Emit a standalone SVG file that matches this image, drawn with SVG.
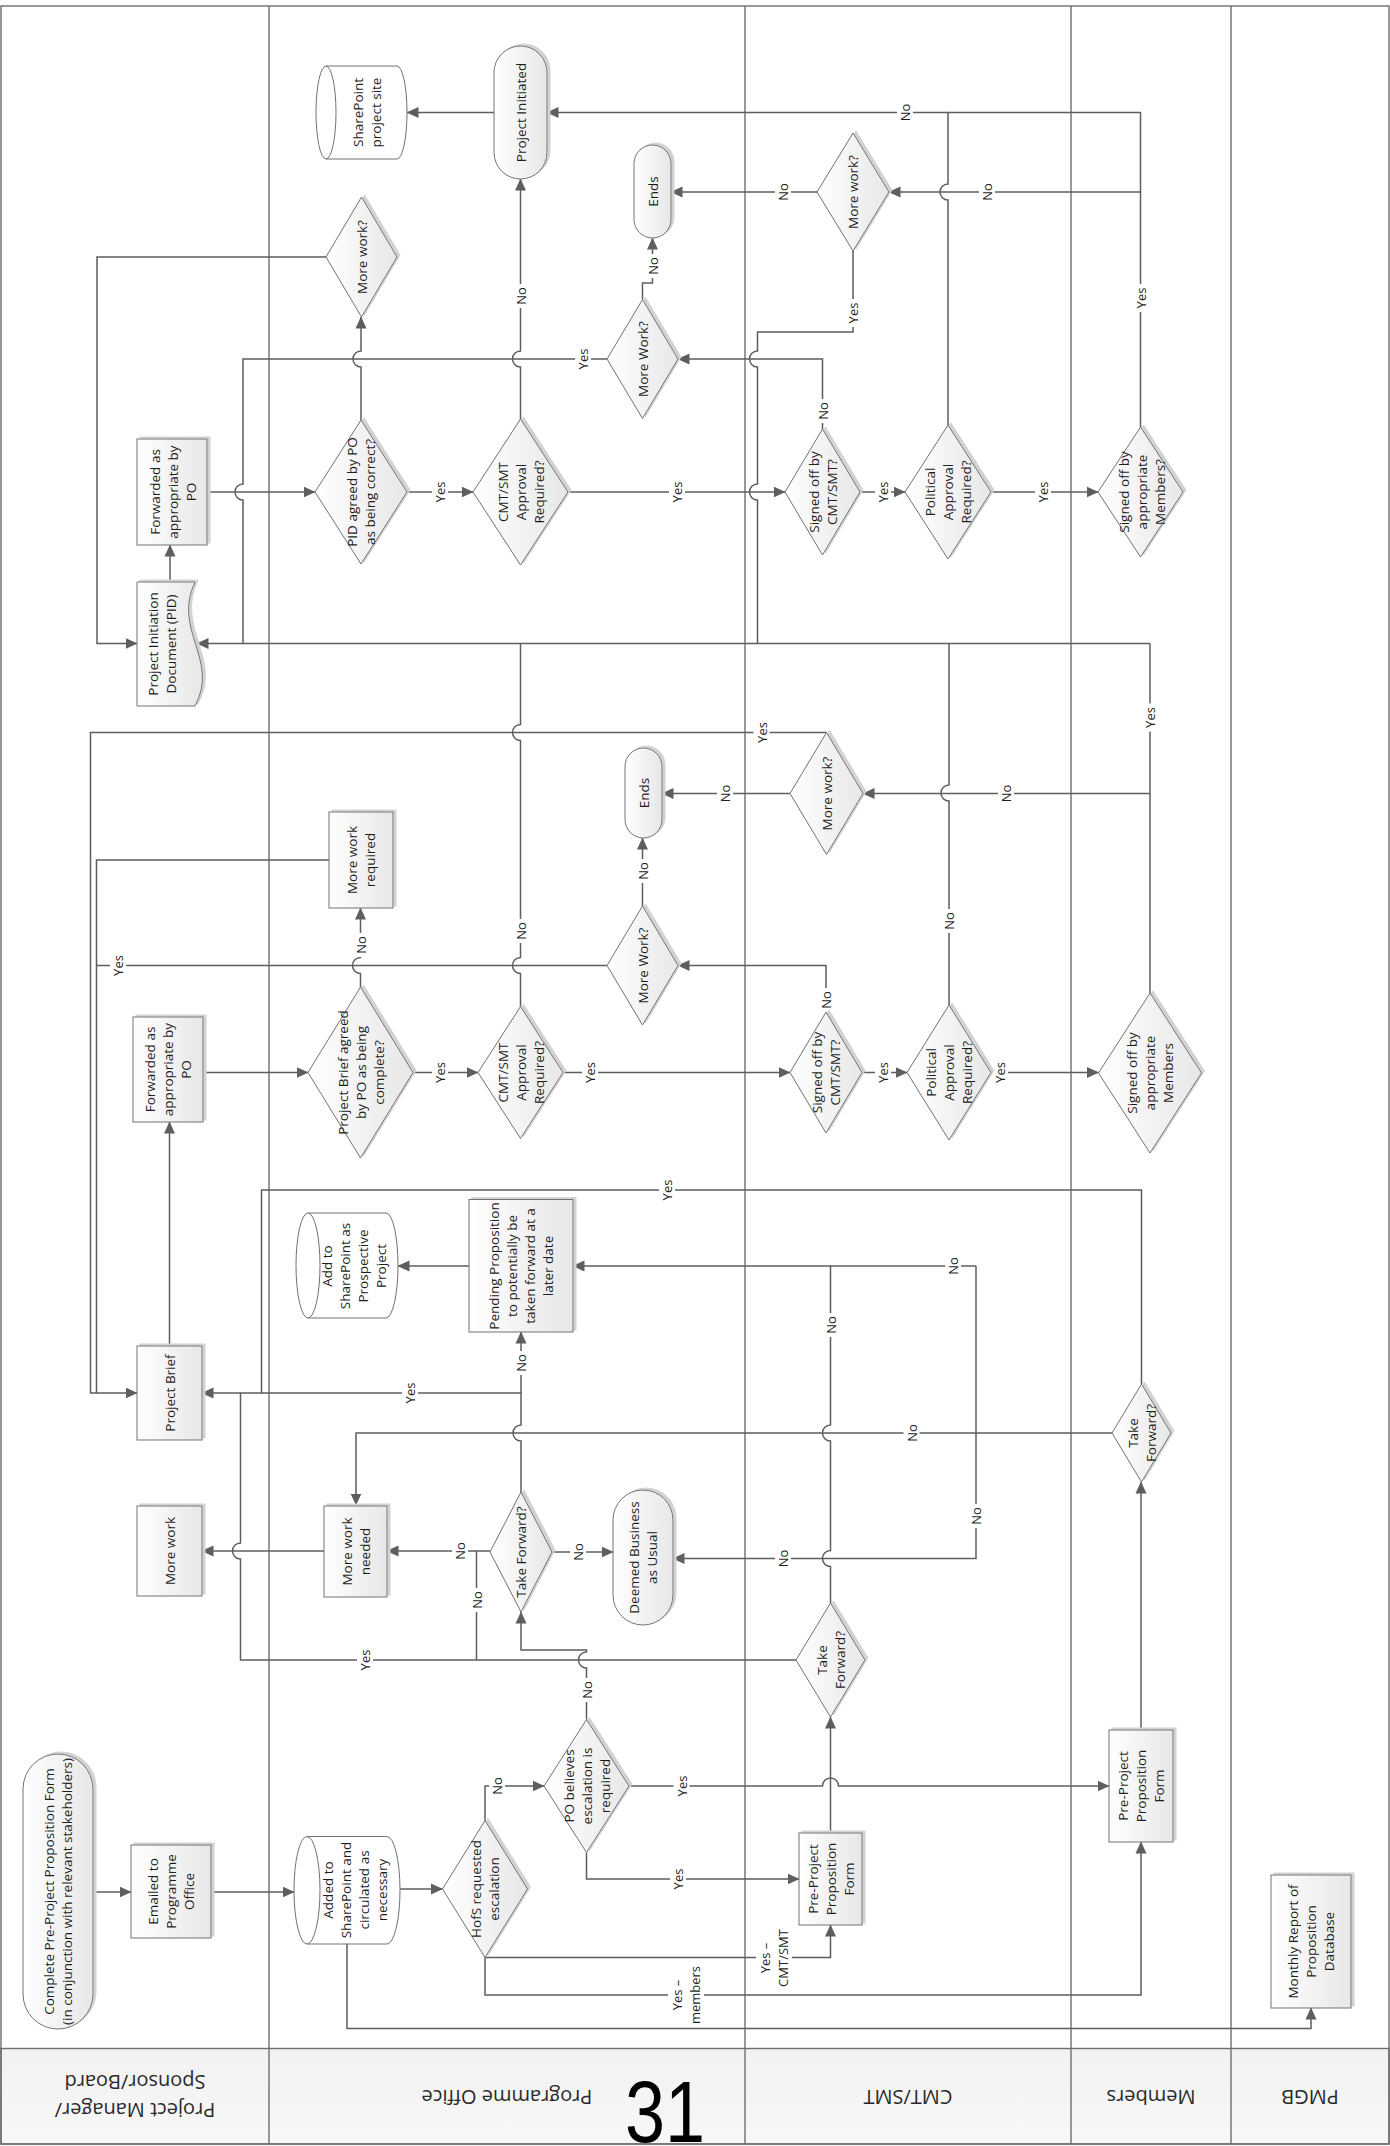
<svg xmlns="http://www.w3.org/2000/svg" width="1390" height="2146" viewBox="0 0 1390 2146">
<style>
.lane{fill:none;stroke:#6e6e6e;stroke-width:1.4}
.hdr{fill:url(#hg);stroke:#6e6e6e;stroke-width:1.4}
.ht{font-family:"Open Sans","Noto Sans",sans-serif;font-size:20px;fill:#2a2a2a;text-anchor:middle;dominant-baseline:central}
.n{fill:url(#ng);stroke:#727272;stroke-width:1;filter:url(#sh)}
.cyl{fill:#fff;stroke:#727272;stroke-width:1}
.t{font-family:"Open Sans","Noto Sans",sans-serif;font-size:13.5px;fill:#1e1e1e;text-anchor:middle;dominant-baseline:central}
.c{fill:none;stroke:#5e5e5e;stroke-width:1.5}
.a{marker-end:url(#ar)}
.lb{fill:#fff}
.lt{font-family:"Open Sans","Noto Sans",sans-serif;font-size:13px;fill:#1e1e1e;text-anchor:middle;dominant-baseline:central}
.pg{font-family:"Liberation Sans",Arial,sans-serif;font-size:72px;fill:#000;text-anchor:middle}
</style>
<defs>
<linearGradient id="ng" x1="0" y1="0" x2="1" y2="0"><stop offset="0" stop-color="#ffffff"/><stop offset="1" stop-color="#e7e7e7"/></linearGradient>
<linearGradient id="hg" x1="0" y1="0" x2="0" y2="1"><stop offset="0" stop-color="#f1f1f1"/><stop offset="1" stop-color="#f8f8f8"/></linearGradient>
<marker id="ar" viewBox="0 0 12 12" refX="11.5" refY="6" markerWidth="12" markerHeight="12" markerUnits="userSpaceOnUse" orient="auto"><path d="M0,0.5 L12,6 L0,11.5 z" fill="#5e5e5e"/></marker>
<filter id="sh" x="-10%" y="-10%" width="130%" height="130%"><feOffset in="SourceAlpha" dx="2.5" dy="-2.5" result="o"/><feFlood flood-color="#d2d2d2"/><feComposite in2="o" operator="in" result="s"/><feMerge><feMergeNode in="s"/><feMergeNode in="SourceGraphic"/></feMerge></filter>
</defs>

<g id="lanes">
<rect x="1" y="6" width="1388" height="2138" fill="#fff" stroke="none"/>
<rect class="hdr" x="1" y="2048.5" width="1388" height="95.5"/>
<rect class="lane" x="1" y="6" width="1388" height="2138"/>
<line class="lane" x1="269" y1="6" x2="269" y2="2144"/>
<line class="lane" x1="745" y1="6" x2="745" y2="2144"/>
<line class="lane" x1="1071" y1="6" x2="1071" y2="2144"/>
<line class="lane" x1="1231" y1="6" x2="1231" y2="2144"/>
<text class="ht" transform="translate(135,2097) rotate(180)"><tspan x="0" y="-14">Project Manager/</tspan><tspan x="0" y="14">Sponsor/Board</tspan></text>
<text class="ht" transform="translate(507,2097) rotate(180)">Programme Office</text>
<text class="ht" transform="translate(908,2097) rotate(180)">CMT/SMT</text>
<text class="ht" transform="translate(1151,2097) rotate(180)">Members</text>
<text class="ht" transform="translate(1310,2097) rotate(180)">PMGB</text>
<text class="pg" transform="translate(665,2142) scale(1,1.2)">31</text>
</g>

<g id="connectors">
<path class="c a" d="M494,112.5 H407"/>
<path class="c a" d="M520.5,419 V367 A8,8 0 0 1 520.5,351 V179"/>
<path class="c a" d="M948,425 V200 A8,8 0 0 1 948,184 V112.5 H547"/>
<path class="c" d="M1140.5,427 V112.5 H948"/>
<path class="c a" d="M1140.5,192 H889"/>
<path class="c a" d="M817,192 H671"/>
<path class="c" d="M853,251 V332 H757.5 V351 A8,8 0 0 0 757.5,367 V484 A8,8 0 0 0 757.5,500 V643.5"/>
<path class="c a" d="M822.5,429 V359 H678"/>
<path class="c" d="M607,359 H243 V484 A8,8 0 0 0 243,500 V643.5"/>
<path class="c a" d="M642.5,299.5 V283 H652.5 V238"/>
<path class="c a" d="M361,420 V367 A8,8 0 0 1 361,351 V317"/>
<path class="c a" d="M326,257 H97 V643.5 H137"/>
<path class="c a" d="M207,492 H315"/>
<path class="c a" d="M170,582 V545"/>
<path class="c a" d="M407,492 H473"/>
<path class="c a" d="M568,492 H785"/>
<path class="c a" d="M860,492 H905"/>
<path class="c a" d="M991,492 H1098"/>
<path class="c a" d="M1150,643.5 H197"/>
<path class="c" d="M1150,993 V643.5"/>
<path class="c" d="M949,1005 V801 A8,8 0 0 1 949,785 V643.5"/>
<path class="c" d="M520.5,1006.5 V973.5 A8,8 0 0 1 520.5,957.5 V740.5 A8,8 0 0 1 520.5,724.5 V643.5"/>
<path class="c a" d="M1150,793.5 H863"/>
<path class="c a" d="M790,793.5 H662"/>
<path class="c a" d="M826.5,732.5 H90.5 V1393 H137"/>
<path class="c" d="M329,860 H96.5 V1393"/>
<path class="c" d="M607,965.5 H96.5"/>
<path class="c a" d="M360.5,987 V973.5 A8,8 0 0 1 360.5,957.5 V908"/>
<path class="c a" d="M826,1012 V965.5 H678"/>
<path class="c a" d="M642.5,906 V838"/>
<path class="c a" d="M203,1072.5 H308"/>
<path class="c a" d="M169.5,1346 V1122"/>
<path class="c a" d="M413,1072.5 H478"/>
<path class="c a" d="M563,1072.5 H790"/>
<path class="c a" d="M862,1072.5 H907"/>
<path class="c a" d="M991,1072.5 H1098.5"/>
<path class="c a" d="M1141.5,1384 V1190 H261.5 V1393 H202"/>
<path class="c" d="M521,1492 V1441 A8,8 0 0 1 521,1425 V1393 H261.5"/>
<path class="c a" d="M521,1393 V1332"/>
<path class="c a" d="M469,1266 H398"/>
<path class="c a" d="M830.5,1603 V1566.5 A8,8 0 0 1 830.5,1550.5 V1441 A8,8 0 0 1 830.5,1425 V1266 H573"/>
<path class="c a" d="M1112,1433 H356 V1505"/>
<path class="c" d="M976,1266 H830.5"/>
<path class="c a" d="M976,1266 V1558.5 H673"/>
<path class="c a" d="M490,1551 H387"/>
<path class="c a" d="M552,1552 H613"/>
<path class="c a" d="M324,1551 H202"/>
<path class="c" d="M796,1660 H240.5 V1559 A8,8 0 0 1 240.5,1543 V1393"/>
<path class="c a" d="M586.5,1719.5 V1668 A8,8 0 0 1 586.5,1652 V1650 H521 V1612"/>
<path class="c" d="M476.5,1551 V1660"/>
<path class="c a" d="M93,1892 H131"/>
<path class="c a" d="M211,1892 H294"/>
<path class="c a" d="M400,1889 H442.5"/>
<path class="c a" d="M485,1820.5 V1786 H544"/>
<path class="c a" d="M485,1957.5 H830.5 V1925"/>
<path class="c a" d="M485,1957.5 V1995 H1141 V1842"/>
<path class="c a" d="M629,1786 H822.5 A8,8 0 0 1 838.5,1786 H1109"/>
<path class="c a" d="M830.5,1833 V1717"/>
<path class="c a" d="M586.5,1852.5 V1879 H799"/>
<path class="c a" d="M1141,1730 V1482"/>
<path class="c a" d="M347,1944 V2028.5 H1311 V2008"/>

<rect class="lb" x="512.5" y="284" width="16" height="24"/><text class="lt" transform="translate(520.5,296) rotate(-90)">No</text>
<rect class="lb" x="897" y="100.5" width="16" height="24"/><text class="lt" transform="translate(905,112.5) rotate(-90)">No</text>
<rect class="lb" x="1132.5" y="284" width="16" height="28"/><text class="lt" transform="translate(1140.5,298) rotate(-90)">Yes</text>
<rect class="lb" x="979" y="180" width="16" height="24"/><text class="lt" transform="translate(987,192) rotate(-90)">No</text>
<rect class="lb" x="775" y="180" width="16" height="24"/><text class="lt" transform="translate(783,192) rotate(-90)">No</text>
<rect class="lb" x="845" y="299" width="16" height="28"/><text class="lt" transform="translate(853,313) rotate(-90)">Yes</text>
<rect class="lb" x="814.5" y="399" width="16" height="24"/><text class="lt" transform="translate(822.5,411) rotate(-90)">No</text>
<rect class="lb" x="575" y="345" width="16" height="28"/><text class="lt" transform="translate(583,359) rotate(-90)">Yes</text>
<rect class="lb" x="644.5" y="254" width="16" height="24"/><text class="lt" transform="translate(652.5,266) rotate(-90)">No</text>
<rect class="lb" x="432" y="478" width="16" height="28"/><text class="lt" transform="translate(440,492) rotate(-90)">Yes</text>
<rect class="lb" x="669" y="478" width="16" height="28"/><text class="lt" transform="translate(677,492) rotate(-90)">Yes</text>
<rect class="lb" x="875" y="478" width="16" height="28"/><text class="lt" transform="translate(883,492) rotate(-90)">Yes</text>
<rect class="lb" x="1035" y="478" width="16" height="28"/><text class="lt" transform="translate(1043,492) rotate(-90)">Yes</text>
<rect class="lb" x="1142" y="703.5" width="16" height="28"/><text class="lt" transform="translate(1150,717.5) rotate(-90)">Yes</text>
<rect class="lb" x="941" y="909" width="16" height="24"/><text class="lt" transform="translate(949,921) rotate(-90)">No</text>
<rect class="lb" x="512.5" y="919" width="16" height="24"/><text class="lt" transform="translate(520.5,931) rotate(-90)">No</text>
<rect class="lb" x="998" y="781.5" width="16" height="24"/><text class="lt" transform="translate(1006,793.5) rotate(-90)">No</text>
<rect class="lb" x="717" y="781.5" width="16" height="24"/><text class="lt" transform="translate(725,793.5) rotate(-90)">No</text>
<rect class="lb" x="753.5" y="718.5" width="16" height="28"/><text class="lt" transform="translate(761.5,732.5) rotate(-90)">Yes</text>
<rect class="lb" x="110" y="951.5" width="16" height="28"/><text class="lt" transform="translate(118,965.5) rotate(-90)">Yes</text>
<rect class="lb" x="352.5" y="933" width="16" height="24"/><text class="lt" transform="translate(360.5,945) rotate(-90)">No</text>
<rect class="lb" x="818" y="988" width="16" height="24"/><text class="lt" transform="translate(826,1000) rotate(-90)">No</text>
<rect class="lb" x="634.5" y="859" width="16" height="24"/><text class="lt" transform="translate(642.5,871) rotate(-90)">No</text>
<rect class="lb" x="432" y="1058.5" width="16" height="28"/><text class="lt" transform="translate(440,1072.5) rotate(-90)">Yes</text>
<rect class="lb" x="582" y="1058.5" width="16" height="28"/><text class="lt" transform="translate(590,1072.5) rotate(-90)">Yes</text>
<rect class="lb" x="875" y="1058.5" width="16" height="28"/><text class="lt" transform="translate(883,1072.5) rotate(-90)">Yes</text>
<rect class="lb" x="992" y="1058.5" width="16" height="28"/><text class="lt" transform="translate(1000,1072.5) rotate(-90)">Yes</text>
<rect class="lb" x="659" y="1176" width="16" height="28"/><text class="lt" transform="translate(667,1190) rotate(-90)">Yes</text>
<rect class="lb" x="402" y="1379" width="16" height="28"/><text class="lt" transform="translate(410,1393) rotate(-90)">Yes</text>
<rect class="lb" x="513" y="1351" width="16" height="24"/><text class="lt" transform="translate(521,1363) rotate(-90)">No</text>
<rect class="lb" x="822.5" y="1313" width="16" height="24"/><text class="lt" transform="translate(830.5,1325) rotate(-90)">No</text>
<rect class="lb" x="903.5" y="1421" width="16" height="24"/><text class="lt" transform="translate(911.5,1433) rotate(-90)">No</text>
<rect class="lb" x="945" y="1254" width="16" height="24"/><text class="lt" transform="translate(953,1266) rotate(-90)">No</text>
<rect class="lb" x="968" y="1504" width="16" height="24"/><text class="lt" transform="translate(976,1516) rotate(-90)">No</text>
<rect class="lb" x="775" y="1546.5" width="16" height="24"/><text class="lt" transform="translate(783,1558.5) rotate(-90)">No</text>
<rect class="lb" x="452" y="1539" width="16" height="24"/><text class="lt" transform="translate(460,1551) rotate(-90)">No</text>
<rect class="lb" x="570" y="1540" width="16" height="24"/><text class="lt" transform="translate(578,1552) rotate(-90)">No</text>
<rect class="lb" x="357" y="1646" width="16" height="28"/><text class="lt" transform="translate(365,1660) rotate(-90)">Yes</text>
<rect class="lb" x="578.5" y="1678" width="16" height="24"/><text class="lt" transform="translate(586.5,1690) rotate(-90)">No</text>
<rect class="lb" x="468.5" y="1588" width="16" height="24"/><text class="lt" transform="translate(476.5,1600) rotate(-90)">No</text>
<rect class="lb" x="489" y="1774" width="16" height="24"/><text class="lt" transform="translate(497,1786) rotate(-90)">No</text>
<rect class="lb" x="756" y="1928" width="36" height="60"/><text class="lt" transform="translate(774,1958) rotate(-90)"><tspan x="0" y="-9">Yes –</tspan><tspan x="0" y="9">CMT/SMT</tspan></text>
<rect class="lb" x="668" y="1966" width="36" height="58"/><text class="lt" transform="translate(686,1995) rotate(-90)"><tspan x="0" y="-9">Yes –</tspan><tspan x="0" y="9">members</tspan></text>
<rect class="lb" x="673.5" y="1772" width="16" height="28"/><text class="lt" transform="translate(681.5,1786) rotate(-90)">Yes</text>
<rect class="lb" x="670" y="1865" width="16" height="28"/><text class="lt" transform="translate(678,1879) rotate(-90)">Yes</text>
</g>

<g id="n_sharepoint_site"><path class="cyl" d="M326,66 H397 A10,46.5 0 0 1 397,159 H326 A10,46.5 0 0 1 326,66 Z M326,66 A10,46.5 0 0 1 326,159"/><text class="t" transform="translate(366.5,112.5) rotate(-90)"><tspan x="0" y="-9">SharePoint</tspan><tspan x="0" y="9">project site</tspan></text></g>
<g id="n_project_initiated"><rect class="n" x="494" y="46" width="53" height="133" rx="26.5"/><text class="t" transform="translate(520.5,112.5) rotate(-90)">Project Initiated</text></g>
<g id="n_ends1"><rect class="n" x="634" y="145" width="37" height="93" rx="18.5"/><text class="t" transform="translate(652.5,191.5) rotate(-90)">Ends</text></g>
<g id="n_morework_top"><polygon class="n" points="361.5,197 397,257 361.5,317 326,257"/><text class="t" transform="translate(361.5,257) rotate(-90)">More work?</text></g>
<g id="n_forwarded1"><rect class="n" x="137" y="439" width="70" height="106"/><text class="t" transform="translate(173,492) rotate(-90)"><tspan x="0" y="-18">Forwarded as</tspan><tspan x="0" y="0">appropriate by</tspan><tspan x="0" y="18">PO</tspan></text></g>
<g id="n_pid_agreed"><polygon class="n" points="361,420 407,492 361,564 315,492"/><text class="t" transform="translate(361,492) rotate(-90)"><tspan x="0" y="-9">PID agreed by PO</tspan><tspan x="0" y="9">as being correct?</tspan></text></g>
<g id="n_cmt_approval1"><polygon class="n" points="520.5,419 568,492 520.5,565 473,492"/><text class="t" transform="translate(521,492) rotate(-90)"><tspan x="0" y="-18">CMT/SMT</tspan><tspan x="0" y="0">Approval</tspan><tspan x="0" y="18">Required?</tspan></text></g>
<g id="n_morework_po1"><polygon class="n" points="642.5,299.5 678,359 642.5,418.5 607,359"/><text class="t" transform="translate(642.5,359) rotate(-90)">More Work?</text></g>
<g id="n_morework_cmt1"><polygon class="n" points="853,133 889,192 853,251 817,192"/><text class="t" transform="translate(853,192) rotate(-90)">More work?</text></g>
<g id="n_signed_cmt1"><polygon class="n" points="822.5,429 860,492 822.5,555 785,492"/><text class="t" transform="translate(822.5,492) rotate(-90)"><tspan x="0" y="-9">Signed off by</tspan><tspan x="0" y="9">CMT/SMT?</tspan></text></g>
<g id="n_political1"><polygon class="n" points="948,425 991,492 948,559 905,492"/><text class="t" transform="translate(948,492) rotate(-90)"><tspan x="0" y="-18">Political</tspan><tspan x="0" y="0">Approval</tspan><tspan x="0" y="18">Required?</tspan></text></g>
<g id="n_members1"><polygon class="n" points="1140.5,427 1183,492 1140.5,557 1098,492"/><text class="t" transform="translate(1141.5,492) rotate(-90)"><tspan x="0" y="-18">Signed off by</tspan><tspan x="0" y="0">appropriate</tspan><tspan x="0" y="18">Members?</tspan></text></g>
<g id="n_pid"><path class="n" d="M137,582 H195 C172,630 220,660 195,706 H137 Z"/><text class="t" transform="translate(162,644) rotate(-90)"><tspan x="0" y="-9">Project Initiation</tspan><tspan x="0" y="9">Document (PID)</tspan></text></g>
<g id="n_morework_required"><rect class="n" x="329" y="812" width="64" height="96"/><text class="t" transform="translate(361,860) rotate(-90)"><tspan x="0" y="-9">More work</tspan><tspan x="0" y="9">required</tspan></text></g>
<g id="n_ends2"><rect class="n" x="625" y="748" width="37" height="90" rx="18.5"/><text class="t" transform="translate(643.5,793) rotate(-90)">Ends</text></g>
<g id="n_morework_cmt2"><polygon class="n" points="826.5,732.5 863,793.5 826.5,854.5 790,793.5"/><text class="t" transform="translate(826.5,793.5) rotate(-90)">More work?</text></g>
<g id="n_morework_po2"><polygon class="n" points="642.5,906 678,965.5 642.5,1025 607,965.5"/><text class="t" transform="translate(642.5,965.5) rotate(-90)">More Work?</text></g>
<g id="n_forwarded2"><rect class="n" x="133" y="1017" width="70" height="105"/><text class="t" transform="translate(168,1069.5) rotate(-90)"><tspan x="0" y="-18">Forwarded as</tspan><tspan x="0" y="0">appropriate by</tspan><tspan x="0" y="18">PO</tspan></text></g>
<g id="n_brief_agreed"><polygon class="n" points="360.5,987 413,1072.5 360.5,1158 308,1072.5"/><text class="t" transform="translate(361,1072.5) rotate(-90)"><tspan x="0" y="-18">Project Brief  agreed</tspan><tspan x="0" y="0">by PO as being</tspan><tspan x="0" y="18">complete?</tspan></text></g>
<g id="n_cmt_approval2"><polygon class="n" points="520.5,1006.5 563,1072.5 520.5,1138.5 478,1072.5"/><text class="t" transform="translate(520.5,1072.5) rotate(-90)"><tspan x="0" y="-18">CMT/SMT</tspan><tspan x="0" y="0">Approval</tspan><tspan x="0" y="18">Required?</tspan></text></g>
<g id="n_signed_cmt2"><polygon class="n" points="826,1012 862,1072.5 826,1133 790,1072.5"/><text class="t" transform="translate(826,1072.5) rotate(-90)"><tspan x="0" y="-9">Signed off by</tspan><tspan x="0" y="9">CMT/SMT?</tspan></text></g>
<g id="n_political2"><polygon class="n" points="949,1005 991,1072.5 949,1140 907,1072.5"/><text class="t" transform="translate(949,1072.5) rotate(-90)"><tspan x="0" y="-18">Political</tspan><tspan x="0" y="0">Approval</tspan><tspan x="0" y="18">Required?</tspan></text></g>
<g id="n_members2"><polygon class="n" points="1150,993 1201.5,1073 1150,1153 1098.5,1073"/><text class="t" transform="translate(1150,1073) rotate(-90)"><tspan x="0" y="-18">Signed off by</tspan><tspan x="0" y="0">appropriate</tspan><tspan x="0" y="18">Members</tspan></text></g>
<g id="n_sharepoint_prospective"><path class="cyl" d="M308,1213 H386 A12,52.5 0 0 1 386,1318 H308 A12,52.5 0 0 1 308,1213 Z M308,1213 A12,52.5 0 0 1 308,1318"/><text class="t" transform="translate(354,1266) rotate(-90)"><tspan x="0" y="-27">Add to</tspan><tspan x="0" y="-9">SharePoint as</tspan><tspan x="0" y="9">Prospective</tspan><tspan x="0" y="27">Project</tspan></text></g>
<g id="n_pending"><rect class="n" x="469" y="1199.5" width="104" height="132.5"/><text class="t" transform="translate(521,1266) rotate(-90)"><tspan x="0" y="-27">Pending Proposition</tspan><tspan x="0" y="-9">to potentially be</tspan><tspan x="0" y="9">taken forward at a</tspan><tspan x="0" y="27">later date</tspan></text></g>
<g id="n_project_brief"><rect class="n" x="137" y="1346" width="65" height="94"/><text class="t" transform="translate(169.5,1393) rotate(-90)">Project Brief</text></g>
<g id="n_take_forward_po"><polygon class="n" points="521,1492 552,1552 521,1612 490,1552"/><text class="t" transform="translate(521,1552) rotate(-90)">Take Forward?</text></g>
<g id="n_morework_needed"><rect class="n" x="324" y="1506" width="63" height="91"/><text class="t" transform="translate(355.5,1551.5) rotate(-90)"><tspan x="0" y="-9">More work</tspan><tspan x="0" y="9">needed</tspan></text></g>
<g id="n_morework_pm"><rect class="n" x="137" y="1506" width="65" height="90"/><text class="t" transform="translate(169.5,1551) rotate(-90)">More work</text></g>
<g id="n_deemed_bau"><rect class="n" x="613" y="1490" width="60" height="135" rx="30"/><text class="t" transform="translate(643,1557.5) rotate(-90)"><tspan x="0" y="-9">Deemed Business</tspan><tspan x="0" y="9">as Usual</tspan></text></g>
<g id="n_take_forward_cmt"><polygon class="n" points="830.5,1603 865,1660 830.5,1717 796,1660"/><text class="t" transform="translate(830.5,1660) rotate(-90)"><tspan x="0" y="-9">Take</tspan><tspan x="0" y="9">Forward?</tspan></text></g>
<g id="n_take_forward_members"><polygon class="n" points="1141.5,1384 1171,1433 1141.5,1482 1112,1433"/><text class="t" transform="translate(1141.5,1433) rotate(-90)"><tspan x="0" y="-9">Take</tspan><tspan x="0" y="9">Forward?</tspan></text></g>
<g id="n_complete_form"><rect class="n" x="23" y="1754" width="70" height="275" rx="35"/><text class="t" transform="translate(58,1891.5) rotate(-90)"><tspan x="0" y="-9">Complete Pre-Project Proposition Form</tspan><tspan x="0" y="9">(in conjunction with relevant stakeholders)</tspan></text></g>
<g id="n_emailed"><rect class="n" x="131" y="1845" width="80" height="93"/><text class="t" transform="translate(171,1891.5) rotate(-90)"><tspan x="0" y="-18">Emailed to</tspan><tspan x="0" y="0">Programme</tspan><tspan x="0" y="18">Office</tspan></text></g>
<g id="n_added_sharepoint"><path class="cyl" d="M307,1836.5 H387 A13,53.75 0 0 1 387,1944 H307 A13,53.75 0 0 1 307,1836.5 Z M307,1836.5 A13,53.75 0 0 1 307,1944"/><text class="t" transform="translate(355,1890) rotate(-90)"><tspan x="0" y="-27">Added to</tspan><tspan x="0" y="-9">SharePoint and</tspan><tspan x="0" y="9">circulated as</tspan><tspan x="0" y="27">necessary</tspan></text></g>
<g id="n_hofs"><polygon class="n" points="485,1820.5 527.5,1889 485,1957.5 442.5,1889"/><text class="t" transform="translate(485,1889) rotate(-90)"><tspan x="0" y="-9">HofS requested</tspan><tspan x="0" y="9">escalation</tspan></text></g>
<g id="n_po_believes"><polygon class="n" points="586.5,1719.5 629,1786 586.5,1852.5 544,1786"/><text class="t" transform="translate(586.5,1786) rotate(-90)"><tspan x="0" y="-18">PO believes</tspan><tspan x="0" y="0">escalation is</tspan><tspan x="0" y="18">required</tspan></text></g>
<g id="n_ppf_cmt"><rect class="n" x="799" y="1833" width="63" height="92"/><text class="t" transform="translate(830.5,1879) rotate(-90)"><tspan x="0" y="-18">Pre-Project</tspan><tspan x="0" y="0">Proposition</tspan><tspan x="0" y="18">Form</tspan></text></g>
<g id="n_ppf_members"><rect class="n" x="1109" y="1730" width="64" height="112"/><text class="t" transform="translate(1141,1786) rotate(-90)"><tspan x="0" y="-18">Pre-Project</tspan><tspan x="0" y="0">Proposition</tspan><tspan x="0" y="18">Form</tspan></text></g>
<g id="n_monthly_report"><rect class="n" x="1271" y="1875" width="80" height="133"/><text class="t" transform="translate(1311,1941.5) rotate(-90)"><tspan x="0" y="-18">Monthly Report of</tspan><tspan x="0" y="0">Proposition</tspan><tspan x="0" y="18">Database</tspan></text></g>
</svg>
